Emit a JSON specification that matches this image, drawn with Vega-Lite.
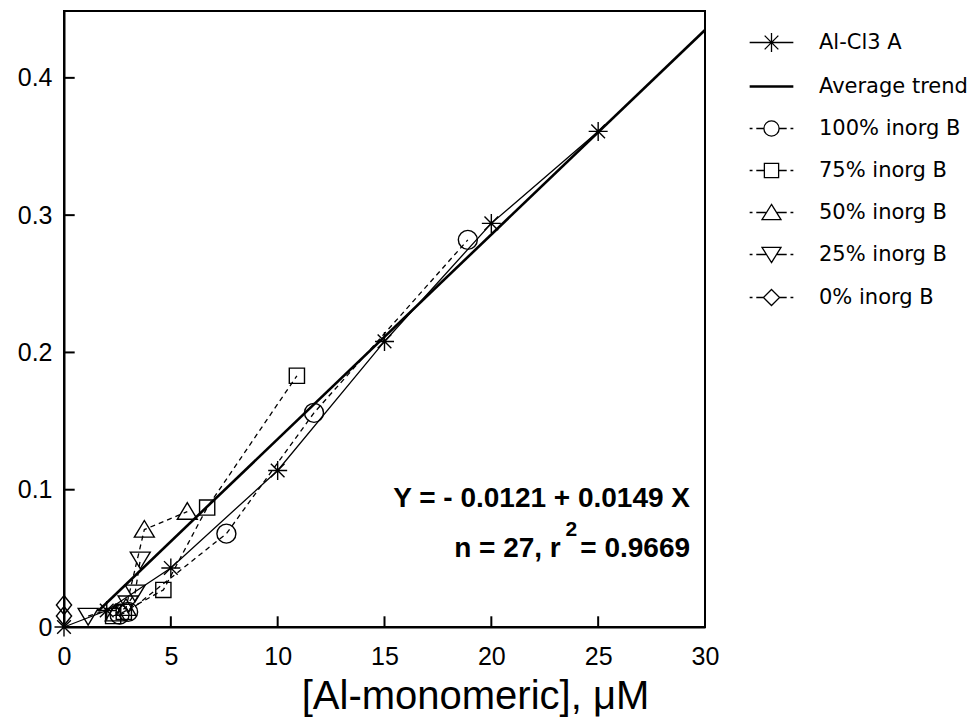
{
  "$schema": "https://vega.github.io/schema/vega-lite/v6.json",
  "width": 641,
  "height": 616,
  "autosize": {"type": "none"},
  "padding": {"left": 64, "top": 11, "right": 268, "bottom": 90},
  "background": "white",
  "config": {
    "font": "Liberation Sans",
    "view": {"stroke": "black", "strokeWidth": 2},
    "axis": {"grid": false, "domainColor": "black", "domainWidth": 2, "labelColor": "black", "labelFont": "Liberation Sans", "labelFontSize": 25, "titleColor": "black"}
  },
  "datasets": {
    "pts": [
      {"series": "Al-Cl3 A", "x": 0, "y": 0},
      {"series": "Al-Cl3 A", "x": 2, "y": 0.012},
      {"series": "Al-Cl3 A", "x": 5, "y": 0.043},
      {"series": "Al-Cl3 A", "x": 10, "y": 0.114},
      {"series": "Al-Cl3 A", "x": 15, "y": 0.208},
      {"series": "Al-Cl3 A", "x": 20, "y": 0.294},
      {"series": "Al-Cl3 A", "x": 25, "y": 0.361},
      {"series": "Average trend", "x": 1.6, "y": 0.0117},
      {"series": "Average trend", "x": 30, "y": 0.4349},
      {"series": "100% inorg B", "x": 2.6, "y": 0.009},
      {"series": "100% inorg B", "x": 3.0, "y": 0.011},
      {"series": "100% inorg B", "x": 7.6, "y": 0.068},
      {"series": "100% inorg B", "x": 11.7, "y": 0.156},
      {"series": "100% inorg B", "x": 18.9, "y": 0.282},
      {"series": "75% inorg B", "x": 2.3, "y": 0.008},
      {"series": "75% inorg B", "x": 2.8, "y": 0.011},
      {"series": "75% inorg B", "x": 4.65, "y": 0.027},
      {"series": "75% inorg B", "x": 6.7, "y": 0.087},
      {"series": "75% inorg B", "x": 10.9, "y": 0.183},
      {"series": "50% inorg B", "x": 2.4, "y": 0.01},
      {"series": "50% inorg B", "x": 2.9, "y": 0.014},
      {"series": "50% inorg B", "x": 3.76, "y": 0.071},
      {"series": "50% inorg B", "x": 5.77, "y": 0.084},
      {"series": "25% inorg B", "x": 1.13, "y": 0.008},
      {"series": "25% inorg B", "x": 3.0, "y": 0.017},
      {"series": "25% inorg B", "x": 3.33, "y": 0.025},
      {"series": "25% inorg B", "x": 3.57, "y": 0.049},
      {"series": "0% inorg B", "x": 0, "y": 0.008},
      {"series": "0% inorg B", "x": 0, "y": 0.016}
    ],
    "xticks": [{"t": 5}, {"t": 10}, {"t": 15}, {"t": 20}, {"t": 25}],
    "yticks": [{"t": 0.1}, {"t": 0.2}, {"t": 0.3}, {"t": 0.4}]
  },
  "resolve": {"scale": {"shape": "independent"}},
  "layer": [
    {
      "data": {"name": "pts"},
      "transform": [{"filter": "datum.series === 'Al-Cl3 A'"}],
      "mark": {"type": "line", "color": "black", "strokeWidth": 1.3},
      "encoding": {
        "x": {"field": "x", "type": "quantitative", "scale": {"domain": [0, 30], "nice": false},
          "axis": {"values": [0, 5, 10, 15, 20, 25, 30], "ticks": false, "labelFlush": false, "labelPadding": 17, "title": "[Al-monomeric], μM", "titleFont": "Liberation Sans", "titleFontSize": 40, "titleFontWeight": "normal", "titleX": 411, "titleY": 81, "titleAlign": "center", "titleBaseline": "alphabetic", "titleAnchor": null}},
        "y": {"field": "y", "type": "quantitative", "scale": {"domain": [0, 0.4487], "nice": false, "zero": false},
          "axis": {"values": [0, 0.1, 0.2, 0.3, 0.4], "ticks": false, "labelFlush": false, "labelPadding": 12, "title": null, "labelExpr": "datum.value === 0 ? '0' : format(datum.value, '.1f')"}}
      }
    },
    {
      "data": {"name": "xticks"},
      "mark": {"type": "rule", "color": "black", "strokeWidth": 2, "opacity": 1},
      "encoding": {
        "x": {"field": "t", "type": "quantitative"},
        "y": {"datum": 0, "type": "quantitative"},
        "y2": {"datum": 0.0078}
      }
    },
    {
      "data": {"name": "yticks"},
      "mark": {"type": "rule", "color": "black", "strokeWidth": 2, "opacity": 1},
      "encoding": {
        "x": {"datum": 0, "type": "quantitative"},
        "x2": {"datum": 0.5},
        "y": {"field": "t", "type": "quantitative"}
      }
    },
    {
      "data": {"name": "pts"},
      "transform": [{"filter": "datum.series !== 'Al-Cl3 A' && datum.series !== 'Average trend'"}],
      "mark": {"type": "line", "color": "black", "strokeWidth": 1.3, "strokeDash": [5, 4]},
      "encoding": {
        "x": {"field": "x", "type": "quantitative"},
        "y": {"field": "y", "type": "quantitative"},
        "detail": {"field": "series"}
      }
    },
    {
      "data": {"name": "pts"},
      "transform": [{"filter": "datum.series === 'Average trend'"}],
      "mark": {"type": "line", "color": "black", "strokeWidth": 2.6},
      "encoding": {
        "x": {"field": "x", "type": "quantitative"},
        "y": {"field": "y", "type": "quantitative"}
      }
    },
    {
      "data": {"name": "pts"},
      "transform": [{"filter": "datum.series !== 'Average trend'"}],
      "mark": {"type": "point", "filled": false, "color": "black", "stroke": "black", "strokeWidth": 1.4, "size": 361, "opacity": 1},
      "encoding": {
        "x": {"field": "x", "type": "quantitative"},
        "y": {"field": "y", "type": "quantitative"},
        "shape": {
          "field": "series", "type": "nominal",
          "scale": {
            "domain": ["Al-Cl3 A", "Average trend", "100% inorg B", "75% inorg B", "50% inorg B", "25% inorg B", "0% inorg B"],
            "range": [
              "M-1,0L1,0M0,-1L0,1M-0.72,-0.72L0.72,0.72M-0.72,0.72L0.72,-0.72",
              "M-1,0L1,0",
              "M1,0A1,1,0,1,1,-1,0A1,1,0,1,1,1,0Z",
              "M-0.8,-0.8L0.8,-0.8L0.8,0.8L-0.8,0.8Z",
              "M0,-0.95L1.05,0.8L-1.05,0.8Z",
              "M0,0.95L1.05,-0.8L-1.05,-0.8Z",
              "M0,-1L0.8,0L0,1L-0.8,0Z"
            ]
          },
          "legend": null
        }
      }
    },
    {
      "data": {"name": "pts"},
      "mark": {"type": "point", "filled": false, "color": "black", "stroke": "black", "strokeWidth": 1.3, "size": 0},
      "encoding": {
        "x": {"field": "x", "type": "quantitative"},
        "y": {"field": "y", "type": "quantitative"},
        "shape": {
          "field": "series", "type": "nominal",
          "scale": {
            "domain": ["Al-Cl3 A", "Average trend", "100% inorg B", "75% inorg B", "50% inorg B", "25% inorg B", "0% inorg B"],
            "range": [
              "M-2.3,0L2.3,0M0,-1L0,1M-0.72,-0.72L0.72,0.72M-0.72,0.72L0.72,-0.72",
              "M-2.3,0L2.3,0M-2.3,0.06L2.3,0.06M-2.3,-0.06L2.3,-0.06",
              "M0.8,0A0.8,0.8,0,1,1,-0.8,0A0.8,0.8,0,1,1,0.8,0ZM-2.3,0L-2.0,0M-1.6,0L-0.8,0M0.8,0L1.6,0M2.0,0L2.3,0",
              "M-0.75,-0.75L0.75,-0.75L0.75,0.75L-0.75,0.75ZM-2.3,0L-2.0,0M-1.6,0L-0.75,0M0.75,0L1.6,0M2.0,0L2.3,0",
              "M0,-0.85L1,0.75L-1,0.75ZM-2.3,0L-2.0,0M-1.6,0L-0.6,0M0.6,0L1.6,0M2.0,0L2.3,0",
              "M0,0.85L1,-0.75L-1,-0.75ZM-2.3,0L-2.0,0M-1.6,0L-0.6,0M0.6,0L1.6,0M2.0,0L2.3,0",
              "M0,-0.85L0.85,0L0,0.85L-0.85,0ZM-2.3,0L-2.0,0M-1.6,0L-0.85,0M0.85,0L1.6,0M2.0,0L2.3,0"
            ]
          },
          "legend": {
            "title": null,
            "orient": "none",
            "legendX": 697,
            "legendY": 21,
            "symbolSize": 361,
            "symbolOpacity": 1,
            "symbolStrokeColor": "black",
            "symbolFillColor": "transparent",
            "symbolStrokeWidth": 1.3,
            "labelFont": "DejaVu Sans",
            "labelFontSize": 21,
            "labelColor": "black",
            "labelOffset": 37,
            "rowPadding": 20,
            "labelLimit": 300
          }
        }
      }
    },
    {
      "data": {"values": [{"label": "Y = - 0.0121 + 0.0149 X"}]},
      "mark": {"type": "text", "align": "right", "baseline": "alphabetic", "fontSize": 28, "fontWeight": "bold", "font": "Liberation Sans", "color": "black"},
      "encoding": {
        "x": {"datum": 29.3, "type": "quantitative"},
        "y": {"datum": 0.0874, "type": "quantitative"},
        "text": {"field": "label"}
      }
    },
    {
      "data": {"values": [{"label": "n = 27, r"}]},
      "mark": {"type": "text", "align": "right", "baseline": "alphabetic", "fontSize": 28, "fontWeight": "bold", "font": "Liberation Sans", "color": "black"},
      "encoding": {
        "x": {"datum": 23.25, "type": "quantitative"},
        "y": {"datum": 0.051, "type": "quantitative"},
        "text": {"field": "label"}
      }
    },
    {
      "data": {"values": [{"label": "2"}]},
      "mark": {"type": "text", "align": "center", "baseline": "alphabetic", "fontSize": 21, "fontWeight": "bold", "font": "Liberation Sans", "color": "black"},
      "encoding": {
        "x": {"datum": 23.75, "type": "quantitative"},
        "y": {"datum": 0.0665, "type": "quantitative"},
        "text": {"field": "label"}
      }
    },
    {
      "data": {"values": [{"label": "= 0.9669"}]},
      "mark": {"type": "text", "align": "right", "baseline": "alphabetic", "fontSize": 28, "fontWeight": "bold", "font": "Liberation Sans", "color": "black"},
      "encoding": {
        "x": {"datum": 29.3, "type": "quantitative"},
        "y": {"datum": 0.051, "type": "quantitative"},
        "text": {"field": "label"}
      }
    }
  ]
}
